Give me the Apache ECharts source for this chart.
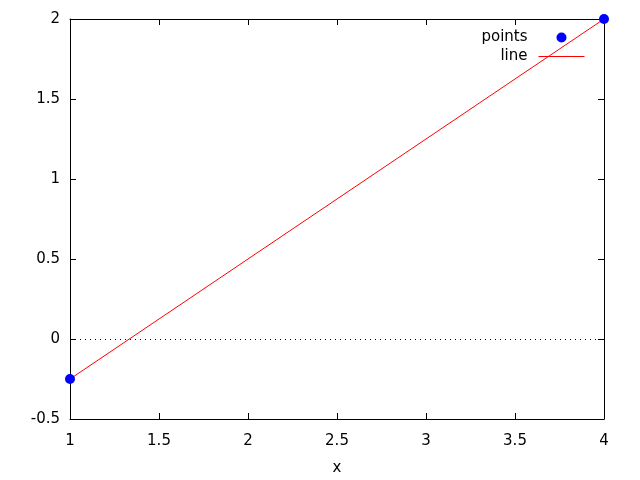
<!DOCTYPE html>
<html><head><meta charset="utf-8">
<script src="https://cdn.jsdelivr.net/npm/echarts@6/dist/echarts.min.js"></script>
<style>html,body{margin:0;padding:0;background:#fff}#c{width:640px;height:480px}</style>
</head><body><div id="c"></div>
<script>
var pointsX = [1, 4];
var pointsY = [-0.25, 2];
var lineX = [1, 4];
var lineY = [-0.25, 2];
var xTicks = [1, 1.5, 2, 2.5, 3, 3.5, 4];
var yTicks = [-0.5, 0, 0.5, 1, 1.5, 2];

var FONT = 'DejaVu Sans';
var chart = echarts.init(document.getElementById('c'), null, {renderer: 'canvas'});
function pairs(xs, ys){ return xs.map(function(x,i){ return [x, ys[i]]; }); }
var axLine = {show: true, onZero: false, lineStyle: {color: '#000', width: 1}};
var tick = {show: true, inside: true, length: 6, lineStyle: {color: '#000', width: 1}};
chart.setOption({
  animation: false,
  grid: {left: 70, right: 36, top: 19, bottom: 61, containLabel: false, outerBoundsMode: 'none'},
  legend: {
    orient: 'vertical', right: 50, top: 25, align: 'right',
    itemWidth: 46, itemHeight: 10, itemGap: 4,
    textStyle: {fontFamily: FONT, fontSize: 15, color: '#000', padding: [0, 6, 0, 0]},
    data: [
      {name: 'points', icon: 'circle', itemStyle: {color: '#0000ff', opacity: 1}},
      {name: 'line', itemStyle: {opacity: 0}, lineStyle: {width: 1, color: '#ff0000', opacity: 1}}
    ]
  },
  xAxis: [{
    type: 'value', min: 1, max: 4, interval: 0.5, position: 'bottom',
    name: 'x', nameLocation: 'middle', nameGap: 42,
    nameTextStyle: {fontFamily: FONT, fontSize: 15, color: '#000'},
    axisLine: axLine, axisTick: tick, splitLine: {show: false},
    axisLabel: {fontFamily: FONT, fontSize: 15, color: '#000', margin: 15,
      formatter: function(v){ return xTicks.indexOf(v) >= 0 ? String(v) : ''; }}
  }, {
    type: 'value', min: 1, max: 4, interval: 0.5, position: 'top',
    axisLine: axLine, axisTick: tick, splitLine: {show: false}, axisLabel: {show: false}
  }],
  yAxis: [{
    type: 'value', min: -0.5, max: 2, interval: 0.5, position: 'left',
    axisLine: axLine, axisTick: tick, splitLine: {show: false},
    axisLabel: {fontFamily: FONT, fontSize: 15, color: '#000', margin: 10, padding: [4, 0, 0, 0],
      formatter: function(v){ return yTicks.indexOf(v) >= 0 ? String(v) : ''; }}
  }, {
    type: 'value', min: -0.5, max: 2, interval: 0.5, position: 'right',
    axisLine: axLine, axisTick: tick, splitLine: {show: false}, axisLabel: {show: false}
  }],
  series: [{
    name: 'points', type: 'scatter', data: pairs(pointsX, pointsY),
    symbol: 'circle', symbolSize: 10, itemStyle: {color: '#0000ff', opacity: 1}, clip: false, z: 3
  }, {
    name: 'line', type: 'line', data: pairs(lineX, lineY), symbol: 'none',
    lineStyle: {color: '#ff0000', width: 1}, itemStyle: {color: '#ff0000'}, z: 2,
    markLine: {silent: true, symbol: 'none', label: {show: false},
      lineStyle: {color: '#000', width: 1, type: [1, 4]},
      data: [{yAxis: 0}]}
  }]
});
</script></body></html>
